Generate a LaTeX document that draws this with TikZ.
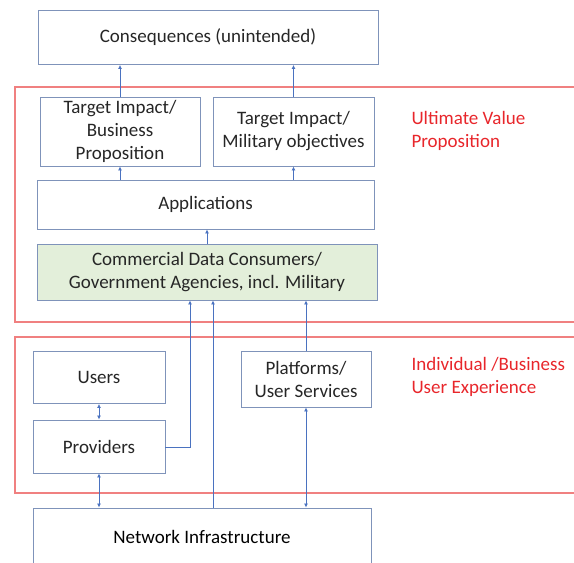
\documentclass[tikz,border=0pt]{standalone}
\usepackage{fontspec}
\setmainfont{Carlito}
\usetikzlibrary{arrows.meta}

\definecolor{boxline}{HTML}{7F93BA}
\definecolor{flowblue}{HTML}{4A72C0}
\definecolor{framered}{HTML}{F08080}
\definecolor{labelred}{HTML}{E8262B}
\definecolor{consumergreen}{HTML}{E3EFDA}

\tikzset{
	layers/.style = {
		x = 1pt,
		y = -1pt,
		font = \fontsize{19}{23}\selectfont,
		flow/.style = {
			draw = flowblue,
			line width = 0.9pt,
			-{Latex[length=4pt, width=4pt]},
		},
		twoway/.style = {
			flow,
			{Latex[length=4pt, width=4pt]}-{Latex[length=4pt, width=4pt]},
		}
	},
	block/.style = {
		rectangle,
		draw = boxline,
		line width = 0.9pt,
		align = center,
		inner sep = 0pt,
		text = black!85
	},
	consumer/.style = {
		block,
		fill = consumergreen
	},
	layer/.style = {
		draw = framered,
		line width = 1.15pt
	},
	layer-label/.style = {
		text = labelred,
		align = left,
		anchor = west
	}
}

\begin{document}
\begin{tikzpicture}[layers]
	\useasboundingbox (0,0) rectangle (574,563);

	% the two layers
	\draw[layer] (15,87) rectangle (590,322);
	\draw[layer] (15,337) rectangle (590,493);
	\node[layer-label] (value) at (408,131) {Ultimate Value\\Proposition};
	\node[layer-label] (experience) at (408,377) {Individual /Business\\User Experience};

	\node[block, minimum width = 340pt, minimum height = 54pt] (cons) at (208,37.5) {Consequences (unintended)};

	\node[block, minimum width = 160pt, minimum height = 69pt] (tib) at (120,131.5) {Target Impact/\\Business\\Proposition};
	\node[block, minimum width = 161pt, minimum height = 69pt] (tim) at (293.5,131.5) {Target Impact/\\Military objectives};

	\node[block, minimum width = 337pt, minimum height = 49pt] (apps) at (205.5,204.5) {Applications};
	\node[consumer, minimum width = 340pt, minimum height = 56pt] (cdc) at (207,272) {Commercial Data Consumers/\\Government Agencies, incl. Military};

	\node[block, minimum width = 132pt, minimum height = 52pt] (users) at (99,377.5) {Users};
	\node[block, minimum width = 132pt, minimum height = 53pt] (prov) at (99,446.5) {Providers};
	\node[block, minimum width = 130pt, minimum height = 56pt] (plat) at (306,379) {Platforms/\\User Services};

	\node[block, minimum width = 338pt, minimum height = 64pt] (net) at (202,540) {};
	\node (netlabel) at (202,537) {Network Infrastructure};

	\coordinate (provturn) at (190,447);
	\coordinate (netup) at (213,508);

	\path[flow] (tib.north) to (tib.north |- cons.south);
	\path[flow] (tim.north) to (tim.north |- cons.south);
	\path[flow] (tib.south |- apps.north) to (tib.south);
	\path[flow] (tim.south |- apps.north) to (tim.south);
	\path[flow] (cdc.north) to (cdc.north |- apps.south);

	\path[flow] (prov.east |- provturn) -- (provturn) -- (provturn |- cdc.south);
	\path[flow] (netup) to (netup |- cdc.south);
	\path[flow] (plat.north) to (plat.north |- cdc.south);

	\path[twoway] (users.south) to (prov.north);
	\path[twoway] (prov.south) to (prov.south |- net.north);
	\path[twoway] (plat.south) to (plat.south |- net.north);
\end{tikzpicture}
\end{document}
